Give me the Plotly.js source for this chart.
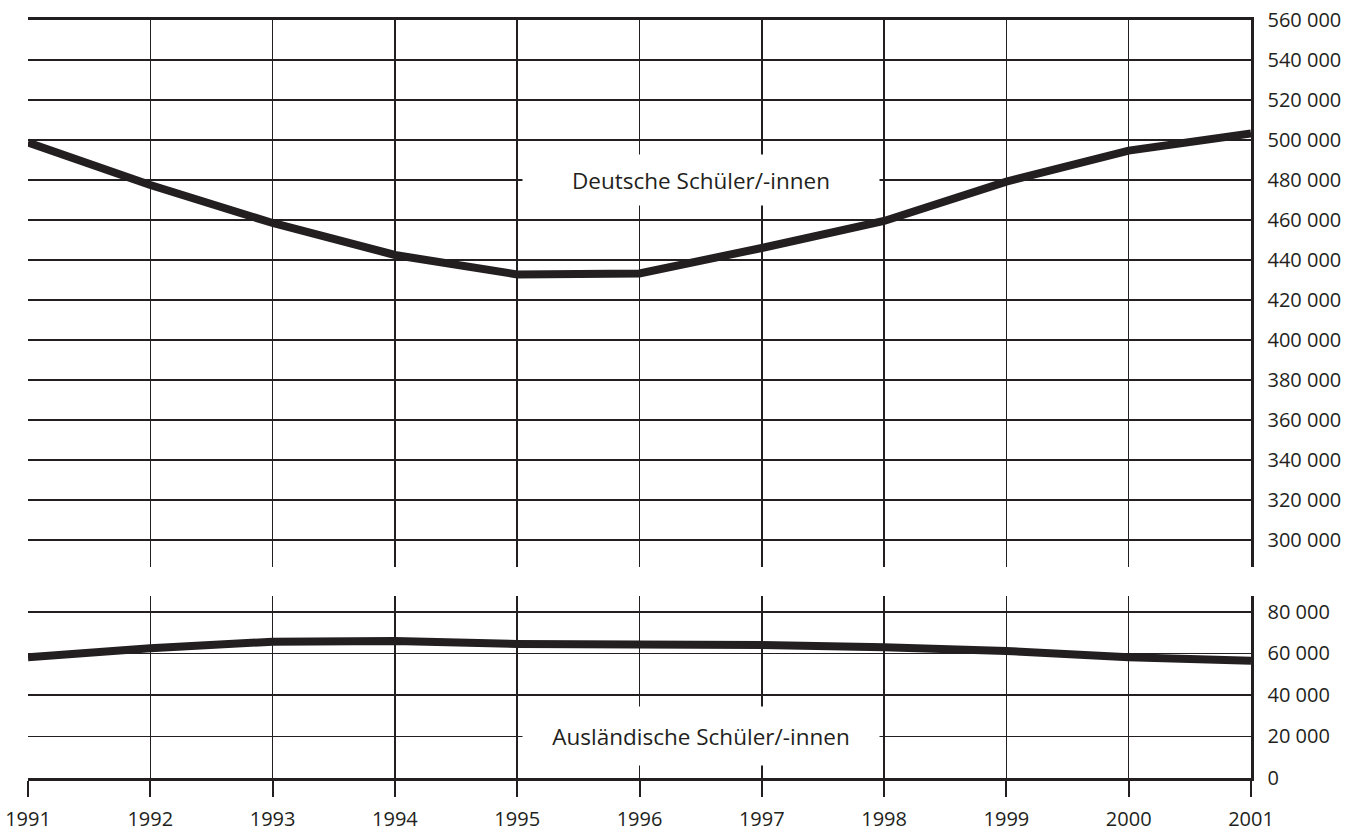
<!DOCTYPE html>
<html>
<head>
<meta charset="utf-8">
<script src="https://cdn.plot.ly/plotly-3.0.1.min.js"></script>
<style>html,body{margin:0;padding:0;background:#fff;}#chart{width:1345px;height:831px;}</style>
</head>
<body>
<div id="chart"></div>
<script>
const years = [1991, 1992, 1993, 1994, 1995, 1996, 1997, 1998, 1999, 2000, 2001];
const deutsche = [498700, 477500, 458500, 442500, 432800, 433300, 446000, 459500, 479200, 494700, 503300];
const auslaendische = [58200, 62500, 65700, 66000, 64600, 64400, 64100, 63000, 61200, 58200, 56500];
const labelDeutsche = 'Deutsche Schüler/-innen';
const labelAuslaender = 'Ausländische Schüler/-innen';

const ink = '#231f20';
const font = {family: '"Open Sans", "Noto Sans", sans-serif', size: 20, color: ink};
const annFont = {family: '"Open Sans", "Noto Sans", sans-serif', size: 22.5, color: ink};

const traces = [
  {x: years, y: deutsche, xaxis: 'x2', yaxis: 'y', mode: 'lines', line: {color: ink, width: 8}, hoverinfo: 'skip', showlegend: false},
  {x: years, y: auslaendische, xaxis: 'x', yaxis: 'y2', mode: 'lines', line: {color: ink, width: 8}, hoverinfo: 'skip', showlegend: false}
];

const topRange = [286500, 560000];
const botRange = [0, 87700];

const layout = {
  width: 1345, height: 831,
  margin: {l: 28, r: 94, t: 20, b: 53},
  paper_bgcolor: '#fff', plot_bgcolor: 'rgba(0,0,0,0)',
  font: font,
  separators: ', ',
  showlegend: false,
  xaxis: {
    anchor: 'y2', range: [1991, 2001], dtick: 1, tickformat: 'd',
    showgrid: true, gridcolor: ink, gridwidth: 1.5,
    showline: true, linecolor: ink, linewidth: 3,
    ticks: 'outside', ticklen: 16, tickwidth: 2, tickcolor: ink,
    ticklabelstandoff: 5, tickfont: font, zeroline: false, fixedrange: true
  },
  xaxis2: {
    anchor: 'y', matches: 'x', range: [1991, 2001], dtick: 1, side: 'top',
    showgrid: true, gridcolor: ink, gridwidth: 1.5,
    showline: true, linecolor: ink, linewidth: 3,
    showticklabels: false, ticks: '', zeroline: false, fixedrange: true
  },
  yaxis: {
    domain: [0.2784, 1], range: topRange, side: 'right', anchor: 'x2',
    tick0: 0, dtick: 20000, tickformat: ',d',
    showgrid: true, gridcolor: ink, gridwidth: 1.5,
    showline: true, linecolor: ink, linewidth: 2.5,
    ticks: '', ticklabelstandoff: 10, tickfont: font, zeroline: false, fixedrange: true
  },
  yaxis3: {
    overlaying: 'y', range: topRange, side: 'left', anchor: 'x2',
    tick0: 0, dtick: 20000, showgrid: false, showticklabels: false,
    showline: true, linecolor: ink, linewidth: 3,
    ticks: 'inside', ticklen: 16, tickwidth: 2.5, tickcolor: ink, zeroline: false, fixedrange: true
  },
  yaxis2: {
    domain: [0, 0.2401], range: botRange, side: 'right', anchor: 'x',
    tick0: 0, dtick: 20000, tickformat: ',d',
    showgrid: true, gridcolor: ink, gridwidth: 1.5,
    showline: true, linecolor: ink, linewidth: 2.5,
    ticks: '', ticklabelstandoff: 10, tickfont: font, zeroline: false, fixedrange: true
  },
  yaxis4: {
    overlaying: 'y2', range: botRange, side: 'left', anchor: 'x',
    tick0: 0, dtick: 20000, showgrid: false, showticklabels: false,
    showline: true, linecolor: ink, linewidth: 3,
    ticks: 'inside', ticklen: 16, tickwidth: 2.5, tickcolor: ink, zeroline: false, fixedrange: true
  },
  annotations: [
    {xref: 'x2', yref: 'y', x: 1996.5, y: 480000, text: labelDeutsche, showarrow: false,
     font: annFont, bgcolor: '#fff', width: 350, height: 44, borderpad: 3},
    {xref: 'x', yref: 'y2', x: 1996.5, y: 20000, text: labelAuslaender, showarrow: false,
     font: annFont, bgcolor: '#fff', width: 350, height: 52, borderpad: 3}
  ]
};

Plotly.newPlot('chart', traces, layout, {displayModeBar: false, staticPlot: true});
</script>
</body>
</html>
